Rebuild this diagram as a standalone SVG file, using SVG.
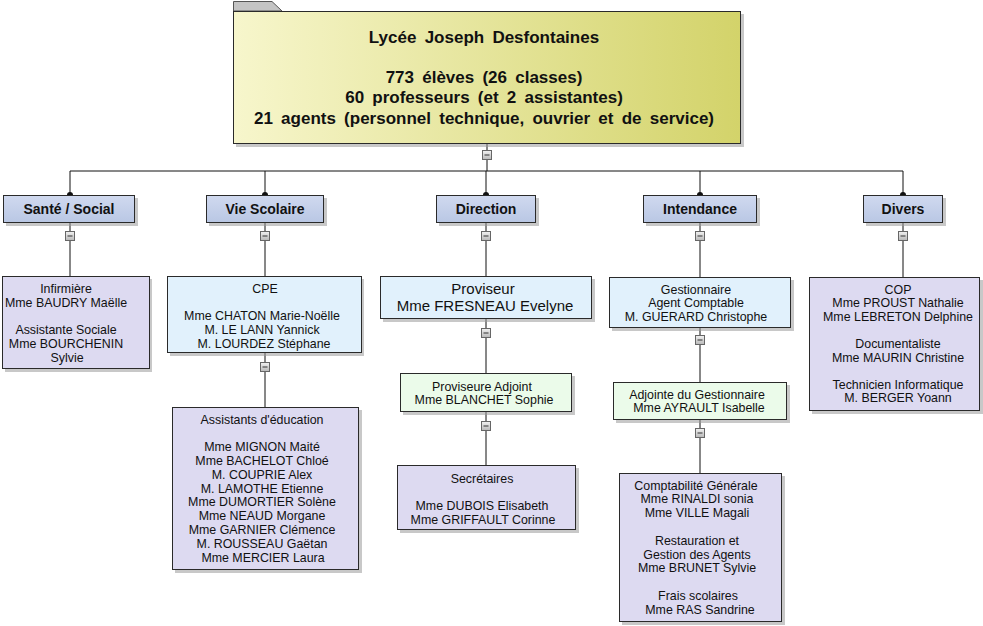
<svg xmlns="http://www.w3.org/2000/svg" width="983" height="626" viewBox="0 0 983 626">
<defs>
<linearGradient id="gTop" x1="0" y1="0" x2="1" y2="0">
<stop offset="0" stop-color="#f7f6cc"/>
<stop offset="1" stop-color="#d3d36a"/>
</linearGradient>
<linearGradient id="gCat" x1="0" y1="0" x2="0" y2="1">
<stop offset="0" stop-color="#d0d9ef"/>
<stop offset="1" stop-color="#b9c7e4"/>
</linearGradient>
<linearGradient id="gBtn" x1="0" y1="0" x2="0" y2="1">
<stop offset="0" stop-color="#f2f2f2"/>
<stop offset="1" stop-color="#b8b8b8"/>
</linearGradient>
</defs>
<style>
text{font-family:"Liberation Sans",Arial,sans-serif;fill:#111;text-anchor:middle}
.t{font-size:17px;font-weight:bold;word-spacing:3.5px}
.c{font-size:14px;font-weight:bold}
.n{font-size:12.4px}
.p{font-size:15px}
.box{stroke:#2a2a2a;stroke-width:1}
.sh{fill:#9a9a9a;opacity:.55}
.lav{fill:#dddaf1}
.blu{fill:#e1f1fc}
.grn{fill:#ebfbea}
.cat{fill:url(#gCat)}
.ln{stroke:#111;stroke-width:1;fill:none}
.btn{fill:url(#gBtn);stroke:#666;stroke-width:1}
.mn{stroke:#333;stroke-width:1}
</style>
<rect width="983" height="626" fill="#fff"/>

<g id="connectors">
<path class="ln" d="M487 144V171M70 171H903M70 171V195M265 171V195M486 171V195M700 171V195M903 171V195"/>
<path class="ln" d="M70 223V276M265 223V276M486 223V276M700 223V277M903 223V277"/>
<path class="ln" d="M265 353V407M486 319V373M486 412V465M700 328V382M700 420V473"/>
<g fill="#111">
<path d="M67 195a3 3 0 0 1 6 0z"/><path d="M262 195a3 3 0 0 1 6 0z"/><path d="M483 195a3 3 0 0 1 6 0z"/><path d="M697 195a3 3 0 0 1 6 0z"/><path d="M900 195a3 3 0 0 1 6 0z"/>
</g>
<g>
<rect class="btn" x="482.5" y="150.5" width="9" height="9"/><path class="mn" d="M484.5 155H489.5"/>
<rect class="btn" x="65.5" y="231.5" width="9" height="9"/><path class="mn" d="M67.5 236H72.5"/>
<rect class="btn" x="260.5" y="231.5" width="9" height="9"/><path class="mn" d="M262.5 236H267.5"/>
<rect class="btn" x="481.5" y="231.5" width="9" height="9"/><path class="mn" d="M483.5 236H488.5"/>
<rect class="btn" x="695.5" y="231.5" width="9" height="9"/><path class="mn" d="M697.5 236H702.5"/>
<rect class="btn" x="898.5" y="231.5" width="9" height="9"/><path class="mn" d="M900.5 236H905.5"/>
<rect class="btn" x="260.5" y="362.5" width="9" height="9"/><path class="mn" d="M262.5 367H267.5"/>
<rect class="btn" x="481.5" y="328.5" width="9" height="9"/><path class="mn" d="M483.5 333H488.5"/>
<rect class="btn" x="481.5" y="421.5" width="9" height="9"/><path class="mn" d="M483.5 426H488.5"/>
<rect class="btn" x="695.5" y="335.5" width="9" height="9"/><path class="mn" d="M697.5 340H702.5"/>
<rect class="btn" x="695.5" y="428.5" width="9" height="9"/><path class="mn" d="M697.5 433H702.5"/>
</g>
</g>

<g id="top">
<path d="M233.5 11V1.5H272L282 11z" fill="#c4c4c4" stroke="#555" stroke-width="1"/>
<rect class="sh" x="236" y="14" width="508" height="133"/>
<rect class="box" x="233.5" y="11.5" width="507" height="132" fill="url(#gTop)"/>
<text class="t" x="484" y="43">Lycée Joseph Desfontaines</text>
<text class="t" x="484" y="83">773 élèves (26 classes)</text>
<text class="t" x="484" y="103">60 professeurs (et 2 assistantes)</text>
<text class="t" x="484" y="124">21 agents (personnel technique, ouvrier et de service)</text>
</g>

<g id="cat-sante"><rect class="sh" x="6" y="198" width="132" height="28"/><rect class="box cat" x="3.5" y="195.5" width="131" height="27"/><text class="c" x="69" y="214">Santé / Social</text></g>
<g id="cat-vie"><rect class="sh" x="209" y="198" width="118" height="28"/><rect class="box cat" x="206.5" y="195.5" width="117" height="27"/><text class="c" x="265" y="214">Vie Scolaire</text></g>
<g id="cat-direction"><rect class="sh" x="439" y="198" width="100" height="28"/><rect class="box cat" x="436.5" y="195.5" width="99" height="27"/><text class="c" x="486" y="214">Direction</text></g>
<g id="cat-intendance"><rect class="sh" x="646" y="198" width="114" height="28"/><rect class="box cat" x="643.5" y="195.5" width="113" height="27"/><text class="c" x="700" y="214">Intendance</text></g>
<g id="cat-divers"><rect class="sh" x="866" y="198" width="80" height="28"/><rect class="box cat" x="863.5" y="195.5" width="79" height="27"/><text class="c" x="903" y="214">Divers</text></g>

<g id="sante"><rect class="sh" x="5" y="279" width="147" height="93"/><rect class="box lav" x="2.5" y="276.5" width="147" height="92"/>
<text class="n" x="66" y="293"><tspan x="66">Infirmière</tspan><tspan x="66" dy="13.7">Mme BAUDRY Maëlle</tspan><tspan x="66" dy="27.4">Assistante Sociale</tspan><tspan x="66" dy="13.7">Mme BOURCHENIN</tspan><tspan x="67" dy="13.7">Sylvie</tspan></text></g>

<g id="cpe"><rect class="sh" x="170" y="279" width="194" height="77"/><rect class="box blu" x="167.5" y="276.5" width="194" height="76"/>
<text class="n" x="263" y="293"><tspan x="265">CPE</tspan><tspan x="262" dy="27.4">Mme CHATON Marie-Noëlle</tspan><tspan x="262" dy="13.7">M. LE LANN Yannick</tspan><tspan x="264" dy="13.7">M. LOURDEZ Stéphane</tspan></text></g>

<g id="assistants"><rect class="sh" x="175" y="410" width="187" height="163"/><rect class="box lav" x="172.5" y="407.5" width="186" height="162"/>
<text class="n" x="262" y="423.5"><tspan x="262">Assistants d'éducation</tspan><tspan x="262" dy="27.6">Mme MIGNON Maité</tspan><tspan x="262" dy="13.8">Mme BACHELOT Chloé</tspan><tspan x="262" dy="13.8">M. COUPRIE Alex</tspan><tspan x="262" dy="13.8">M. LAMOTHE Etienne</tspan><tspan x="262" dy="13.8">Mme DUMORTIER Solène</tspan><tspan x="262" dy="13.8">Mme NEAUD Morgane</tspan><tspan x="262" dy="13.8">Mme GARNIER Clémence</tspan><tspan x="262" dy="13.8">M. ROUSSEAU Gaëtan</tspan><tspan x="263" dy="13.8">Mme MERCIER Laura</tspan></text></g>

<g id="proviseur"><rect class="sh" x="383" y="279" width="212" height="43"/><rect class="box blu" x="380.5" y="276.5" width="211" height="42"/>
<text class="p" x="484" y="294"><tspan x="483">Proviseur</tspan><tspan x="485" dy="17">Mme FRESNEAU Evelyne</tspan></text></g>

<g id="adjoint"><rect class="sh" x="403" y="376" width="172" height="39"/><rect class="box grn" x="400.5" y="373.5" width="171" height="38"/>
<text class="n" x="483" y="390.5"><tspan x="482">Proviseure Adjoint</tspan><tspan x="484" dy="13.8">Mme BLANCHET Sophie</tspan></text></g>

<g id="secretaires"><rect class="sh" x="400" y="468" width="179" height="65"/><rect class="box lav" x="397.5" y="465.5" width="178" height="64"/>
<text class="n" x="482" y="482.5"><tspan x="482">Secrétaires</tspan><tspan x="482" dy="27.6">Mme DUBOIS Elisabeth</tspan><tspan x="483" dy="13.6">Mme GRIFFAULT Corinne</tspan></text></g>

<g id="gestionnaire"><rect class="sh" x="612" y="280" width="182" height="51"/><rect class="box blu" x="609.5" y="277.5" width="181" height="50"/>
<text class="n" x="696" y="293.5"><tspan x="696">Gestionnaire</tspan><tspan x="696" dy="13.8">Agent Comptable</tspan><tspan x="696" dy="13.8">M. GUERARD Christophe</tspan></text></g>

<g id="adjointe"><rect class="sh" x="616" y="385" width="174" height="38"/><rect class="box grn" x="613.5" y="382.5" width="173" height="37"/>
<text class="n" x="698" y="398.5"><tspan x="697">Adjointe du Gestionnaire</tspan><tspan x="699" dy="13.8">Mme AYRAULT Isabelle</tspan></text></g>

<g id="comptabilite"><rect class="sh" x="622" y="476" width="163" height="149"/><rect class="box lav" x="619.5" y="473.5" width="162" height="148"/>
<text class="n" x="697" y="489.5"><tspan x="696">Comptabilité Générale</tspan><tspan x="697" dy="13.8">Mme RINALDI sonia</tspan><tspan x="697" dy="13.8">Mme VILLE Magali</tspan><tspan x="697" dy="27.6">Restauration et</tspan><tspan x="697" dy="13.8">Gestion des Agents</tspan><tspan x="697" dy="13.8">Mme BRUNET Sylvie</tspan><tspan x="698" dy="27.6">Frais scolaires</tspan><tspan x="700" dy="13.8">Mme RAS Sandrine</tspan></text></g>

<g id="divers"><rect class="sh" x="812" y="280" width="171" height="134"/><rect class="box lav" x="809.5" y="277.5" width="170" height="133"/>
<text class="n" x="898" y="293.5"><tspan x="898">COP</tspan><tspan x="898" dy="13.6">Mme PROUST Nathalie</tspan><tspan x="898" dy="13.6">Mme LEBRETON Delphine</tspan><tspan x="898" dy="27.2">Documentaliste</tspan><tspan x="898" dy="13.6">Mme MAURIN Christine</tspan><tspan x="898" dy="27.2">Technicien Informatique</tspan><tspan x="898" dy="13.6">M. BERGER Yoann</tspan></text></g>
</svg>
